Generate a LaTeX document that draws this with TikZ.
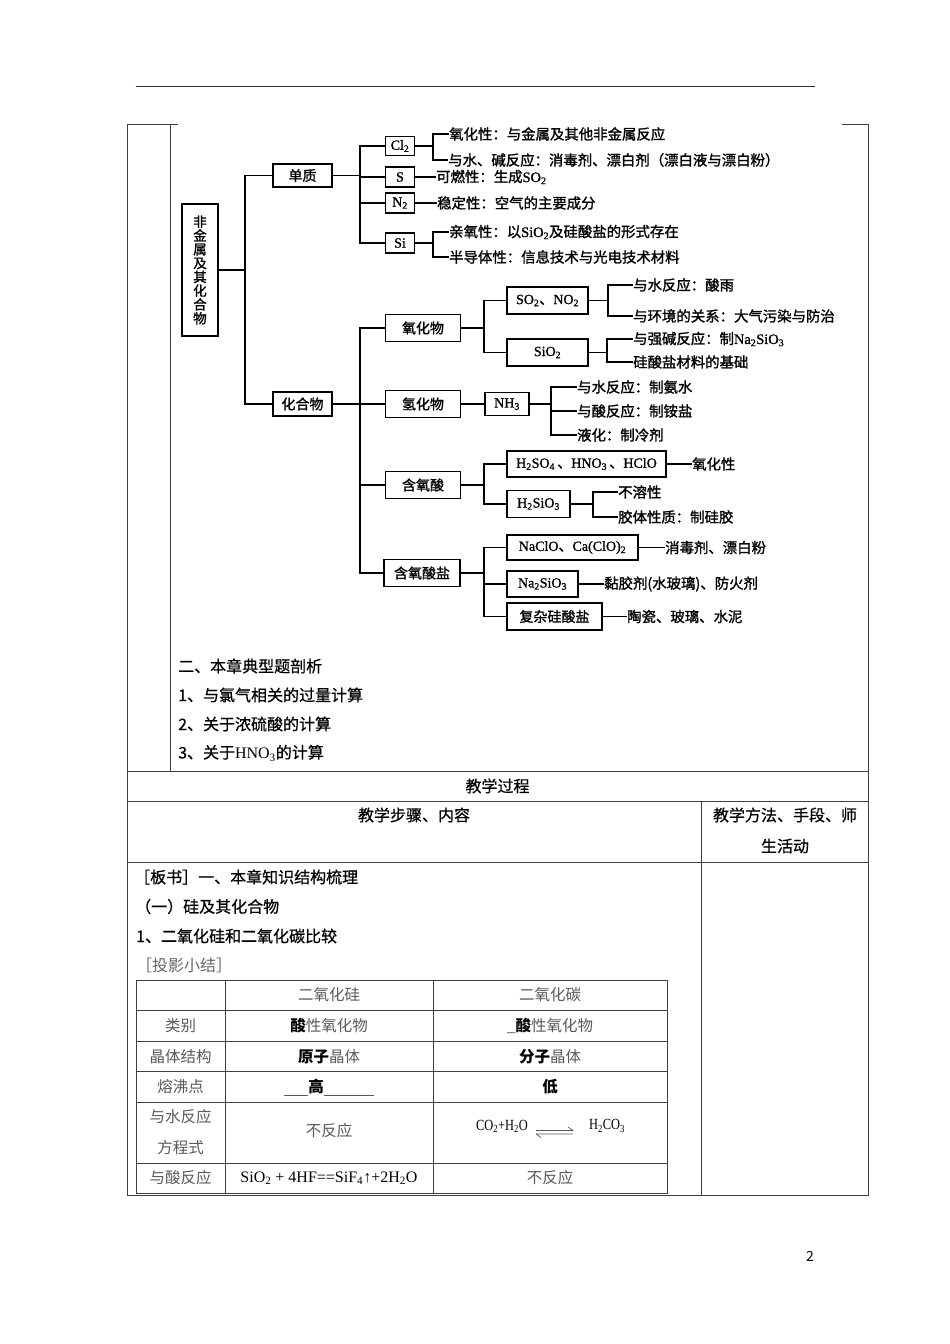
\documentclass[tikz,border=0pt]{standalone}
\usepackage{fontspec}
\usepackage{graphicx}
\setmainfont{Noto Sans CJK SC}
\newfontfamily\lat{Liberation Serif}
\newfontfamily\latb[FakeBold=1.2]{Liberation Serif}
\newfontfamily\tf[FakeBold=1.4]{Noto Sans CJK SC}
\newfontfamily\bodyf[FakeBold=0.6]{Noto Sans CJK SC}
\newcommand\sbs[1]{\textsubscript{#1}}
\newcommand\bk[1]{\textcolor{black}{\bfseries #1}}
\begin{document}
\begin{tikzpicture}[x=1pt,y=-1pt,
  box/.style={draw, line width=1.3pt, inner sep=0pt, font=\tf\fontsize{14}{16}\selectfont},
  lnk/.style={line width=1.3pt},
  prop/.style={anchor=west, inner sep=0pt, font=\tf\fontsize{14.4}{16}\selectfont},
  frm/.style={line width=0.9pt, black!75},
  txt/.style={anchor=west, inner sep=0pt, font=\bodyf\fontsize{16}{18}\selectfont},
  hd/.style={inner sep=0pt, font=\bodyf\fontsize{16}{18}\selectfont},
  cell/.style={inner sep=0pt, font=\fontsize{15.5}{18}\selectfont, text=black!65},
]
\useasboundingbox (0,0) rectangle (950,1344);

% page rule and frame
\draw[line width=1.6pt, black!80] (135.5,86.5) -- (815,86.5);
\draw[frm] (178,124) -- (127,124) -- (127,1195) -- (868,1195) -- (868,124) -- (842,124);
\draw[frm] (170,124) -- (170,771);
\draw[frm] (127,771) -- (868,771);
\draw[frm] (127,801) -- (868,801);
\draw[frm] (127,862) -- (868,862);
\draw[frm] (701,801) -- (701,1195);

% ---------- tree ----------
\node[box, minimum width=36pt, minimum height=132pt, align=center,
      font=\tf\fontsize{13.5}{13.8}\selectfont] (root) at (200,270) {非\\金\\属\\及\\其\\化\\合\\物};
\node[box, minimum width=59pt, minimum height=23pt] (danzhi) at (302.5,175.5) {单质};
\node[box, minimum width=59pt, minimum height=24pt] (huahewu) at (302.5,404) {化合物};

\node[box, minimum width=29pt, minimum height=19.5pt] (cl2) at (400,146) {\latb Cl\sbs{2}};
\node[box, minimum width=29pt, minimum height=20pt] (s) at (400,177) {\latb S};
\node[box, minimum width=29pt, minimum height=20pt] (n2) at (400,203) {\latb N\sbs{2}};
\node[box, minimum width=29pt, minimum height=20pt] (si) at (400,243) {\latb Si};

\node[box, minimum width=75pt, minimum height=27pt] (yhw) at (423,328) {氧化物};
\node[box, minimum width=75pt, minimum height=27pt] (qhw) at (423,404) {氢化物};
\node[box, minimum width=75pt, minimum height=27pt] (hys) at (423,485) {含氧酸};
\node[box, minimum width=76pt, minimum height=27pt] (hysy) at (422,573) {含氧酸盐};

\node[box, minimum width=81pt, minimum height=27pt] (so2no2) at (547.5,300.5) {{\latb SO\sbs{2}}、{\latb NO\sbs{2}}};
\node[box, minimum width=81pt, minimum height=27pt] (sio2) at (547.5,352.5) {\latb SiO\sbs{2}};
\node[box, minimum width=44pt, minimum height=23pt] (nh3) at (507,404) {\latb NH\sbs{3}};
\node[box, minimum width=159pt, minimum height=26pt] (h2so4) at (586.5,464) {{\latb H\sbs{2}SO\sbs{4}}\,、{\latb HNO\sbs{3}}\,、{\latb HClO}};
\node[box, minimum width=63pt, minimum height=27pt] (h2sio3) at (538.5,504) {\latb H\sbs{2}SiO\sbs{3}};
\node[box, minimum width=131pt, minimum height=25pt] (naclo) at (572.5,547.5) {{\latb NaClO}、{\latb Ca(ClO)\sbs{2}}};
\node[box, minimum width=71pt, minimum height=26pt] (na2sio3) at (542.5,584) {\latb Na\sbs{2}SiO\sbs{3}};
\node[box, minimum width=95pt, minimum height=27pt] (fzgsy) at (554.5,616.5) {复杂硅酸盐};

% property texts
\node[prop] (p1) at (449,134) {氧化性：与金属及其他非金属反应};
\node[prop] (p2) at (448,160) {与水、碱反应：消毒剂、漂白剂（漂白液与漂白粉）};
\node[prop] (p3) at (436,177) {可燃性：生成{\latb SO\sbs{2}}};
\node[prop] (p4) at (437,203) {稳定性：空气的主要成分};
\node[prop] (p5) at (449,232) {亲氧性：以{\latb SiO\sbs{2}}及硅酸盐的形式存在};
\node[prop] (p6) at (449,257) {半导体性：信息技术与光电技术材料};
\node[prop] (q1) at (633,285) {与水反应：酸雨};
\node[prop] (q2) at (633,316) {与环境的关系：大气污染与防治};
\node[prop] (q3) at (633,339) {与强碱反应：制{\latb Na\sbs{2}SiO\sbs{3}}};
\node[prop] (q4) at (633,362) {硅酸盐材料的基础};
\node[prop] (r1) at (577,387) {与水反应：制氨水};
\node[prop] (r2) at (577,411) {与酸反应：制铵盐};
\node[prop] (r3) at (577,435) {液化：制冷剂};
\node[prop] (s1) at (692,464) {氧化性};
\node[prop] (s2) at (618,492) {不溶性};
\node[prop] (s3) at (618,517) {胶体性质：制硅胶};
\node[prop] (u1) at (665,547.5) {消毒剂、漂白粉};
\node[prop] (u2) at (604,584) {黏胶剂(水玻璃)、防火剂};
\node[prop] (u3) at (627,616.5) {陶瓷、玻璃、水泥};

% branch x positions
\coordinate (b0) at (245,0);
\coordinate (b1) at (360,0);
\coordinate (b2) at (433,0);
\coordinate (b4) at (484,0);
\coordinate (b5) at (608,0);
\coordinate (b6) at (607,0);
\coordinate (b7) at (551,0);
\coordinate (b8) at (593,0);

\draw[lnk] (root.east) -- (root.east -| b0);
\draw[lnk] (danzhi.west) -- (danzhi.west -| b0) -- (huahewu.west -| b0) -- (huahewu.west);

\draw[lnk] (danzhi.east) -- (danzhi.east -| b1);
\draw[lnk] (cl2.west) -- (cl2.west -| b1) -- (si.west -| b1) -- (si.west);
\draw[lnk] (s.west -| b1) -- (s.west);
\draw[lnk] (n2.west -| b1) -- (n2.west);

\draw[lnk] (cl2.east) -- (cl2.east -| b2);
\draw[lnk] (p1.west) -- (p1.west -| b2) -- (p2.west -| b2) -- (p2.west);
\draw[lnk] (s.east) -- (p3.west);
\draw[lnk] (n2.east) -- (p4.west);
\draw[lnk] (si.east) -- (si.east -| b2);
\draw[lnk] (p5.west) -- (p5.west -| b2) -- (p6.west -| b2) -- (p6.west);

\draw[lnk] (huahewu.east) -- (huahewu.east -| b1);
\draw[lnk] (yhw.west) -- (yhw.west -| b1) -- (hysy.west -| b1) -- (hysy.west);
\draw[lnk] (qhw.west -| b1) -- (qhw.west);
\draw[lnk] (hys.west -| b1) -- (hys.west);

\draw[lnk] (yhw.east) -- (yhw.east -| b4);
\draw[lnk] (so2no2.west) -- (so2no2.west -| b4) -- (sio2.west -| b4) -- (sio2.west);
\draw[lnk] (so2no2.east) -- (so2no2.east -| b5);
\draw[lnk] (q1.west) -- (q1.west -| b5) -- (q2.west -| b5) -- (q2.west);
\draw[lnk] (sio2.east) -- (sio2.east -| b6);
\draw[lnk] (q3.west) -- (q3.west -| b6) -- (q4.west -| b6) -- (q4.west);

\draw[lnk] (qhw.east) -- (nh3.west);
\draw[lnk] (nh3.east) -- (nh3.east -| b7);
\draw[lnk] (r1.west) -- (r1.west -| b7) -- (r3.west -| b7) -- (r3.west);
\draw[lnk] (r2.west -| b7) -- (r2.west);

\draw[lnk] (hys.east) -- (hys.east -| b4);
\draw[lnk] (h2so4.west) -- (h2so4.west -| b4) -- (h2sio3.west -| b4) -- (h2sio3.west);
\draw[lnk] (h2so4.east) -- (s1.west);
\draw[lnk] (h2sio3.east) -- (h2sio3.east -| b8);
\draw[lnk] (s2.west) -- (s2.west -| b8) -- (s3.west -| b8) -- (s3.west);

\draw[lnk] (hysy.east) -- (hysy.east -| b4);
\draw[lnk] (naclo.west) -- (naclo.west -| b4) -- (fzgsy.west -| b4) -- (fzgsy.west);
\draw[lnk] (na2sio3.west -| b4) -- (na2sio3.west);
\draw[lnk] (naclo.east) -- (u1.west);
\draw[lnk] (na2sio3.east) -- (u2.west);
\draw[lnk] (fzgsy.east) -- (u3.west);

% ---------- texts below tree ----------
\node[txt] (t1) at (178,666) {二、本章典型题剖析};
\node[txt] (t2) at (178,695) {1、与氯气相关的过量计算};
\node[txt] (t3) at (178,724) {2、关于浓硫酸的计算};
\node[txt] (t4) at (178,753) {3、关于{\lat HNO\sbs{3}}的计算};

\node[hd] (h1) at (497.5,786) {教学过程};
\node[hd] (h2) at (414,815) {教学步骤、内容};
\node[hd] (h3) at (785,815) {教学方法、手段、师};
\node[hd] (h4) at (785,846) {生活动};

\node[txt] (c1) at (134,877) {［板书］一、本章知识结构梳理};
\node[txt] (c2) at (135,906.5) {（一）硅及其化合物};
\node[txt] (c3) at (136,936) {1、二氧化硅和二氧化碳比较};
\node[anchor=west, inner sep=0pt, font=\fontsize{16}{18}\selectfont, text=black!60] (c4) at (136,965) {［投影小结］};

% ---------- inner table ----------
\draw[frm] (136,980) rectangle (667,1193.3);
\draw[frm] (225,980) -- (225,1193.3);
\draw[frm] (433,980) -- (433,1193.3);
\foreach \yy in {1010.7,1041,1071.7,1102.3,1163.3} \draw[frm] (136,\yy) -- (667,\yy);

\node[cell] (k01) at (329,995) {二氧化硅};
\node[cell] (k02) at (550,995) {二氧化碳};
\node[cell] (k10) at (180.5,1026) {类别};
\node[cell] (k11) at (329,1026) {\bk{酸}性氧化物};
\node[cell] (k12) at (550,1026) {\_\bk{酸}性氧化物};
\node[cell] (k20) at (180.5,1056.5) {晶体结构};
\node[cell] (k21) at (329,1056.5) {\bk{原子}晶体};
\node[cell] (k22) at (550,1056.5) {\bk{分子}晶体};
\node[cell] (k30) at (180.5,1087) {熔沸点};
\node[cell] (k31) at (329,1087) {\rule[-3pt]{24pt}{0.7pt}\bk{高}\rule[-3pt]{50pt}{0.7pt}};
\node[cell] (k32) at (550,1087) {\bk{低}};
\node[cell] (k40) at (180.5,1117) {与水反应};
\node[cell] (k40b) at (180.5,1147.5) {方程式};
\node[cell] (k41) at (329,1131) {不反应};
\node[cell, text=black] (k42a) at (502,1126) {\scalebox{0.8}[1]{\lat CO\sbs{2}+H\sbs{2}O}};
\node[cell, text=black] (k42b) at (607,1126) {\scalebox{0.8}[1]{\lat H\sbs{2}CO\sbs{3}}};
\draw[black!65, line width=0.7pt] (k42a.east) ++(8,4.5) coordinate (e1) -- ++(37,0) coordinate (e2) -- ++(-5,-3.5);
\draw[black!65, line width=0.7pt] (e1) ++(0,3.5) -- ++(37,0) (e1) ++(0,3.5) -- ++(5,3.5);
\node[cell] (k50) at (180.5,1178) {与酸反应};
\node[cell, text=black, font=\fontsize{16}{18}\selectfont] (k51) at (329,1178) {\lat SiO\sbs{2} + 4HF==SiF\sbs{4}↑+2H\sbs{2}O};
\node[cell] (k52) at (550,1178) {不反应};

\node[inner sep=0pt, font=\fontsize{14}{16}\selectfont] (pg) at (810,1256) {2};
\end{tikzpicture}
\end{document}
